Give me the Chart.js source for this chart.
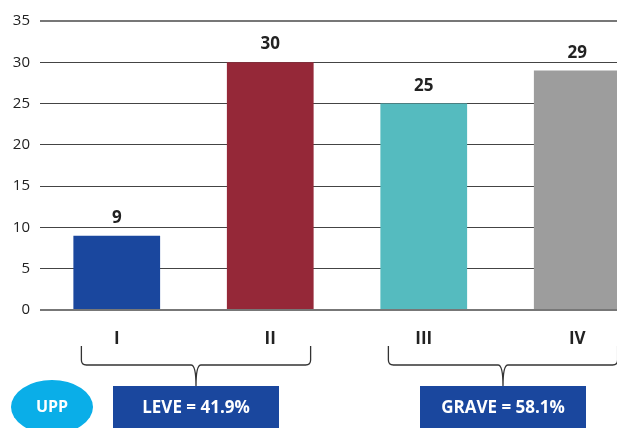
<!DOCTYPE html>
<html>
<head>
<meta charset="utf-8">
<script src="https://cdn.jsdelivr.net/npm/chart.js@4"></script>
<style>
  html, body { margin: 0; padding: 0; background: #fff; overflow: hidden; }
  #wrap { position: relative; width: 617px; height: 428px; overflow: hidden; }
  #wrap canvas { position: absolute; left: 0; top: 0; }
</style>
</head>
<body>
<div id="wrap"><canvas id="gradeChart" width="654" height="428"></canvas></div>
<script>
// 등급별 건수
const categories = ['I', 'II', 'III', 'IV'];
const counts = [9, 30, 25, 29];
const barColors = ['#1a479e', '#952838', '#55bbbf', '#9d9d9d'];
const yTicks = [0, 5, 10, 15, 20, 25, 30, 35];

// 묶음 라벨 (중괄호 아래 상자)
const groups = [
    { from: 0, to: 1, text: 'LEVE = 41.9%' },
    { from: 2, to: 3, text: 'GRAVE = 58.1%' }
];
const badgeText = 'UPP';

const FONT = "'Open Sans', 'Noto Sans', sans-serif";

// 막대 위 값 표시
const valueLabels = {
    id: 'valueLabels',
    afterDatasetsDraw(chart) {
        const ctx = chart.ctx;
        const meta = chart.getDatasetMeta(0);
        ctx.save();
        ctx.font = 'bold 17px ' + FONT;
        ctx.fillStyle = '#222';
        ctx.textAlign = 'center';
        ctx.textBaseline = 'alphabetic';
        meta.data.forEach((bar, i) => {
            ctx.fillText(String(counts[i]), bar.x, bar.y - 13);
        });
        ctx.restore();
    }
};

// 중괄호 + 상자 + UPP 배지
const groupBraces = {
    id: 'groupBraces',
    afterDraw(chart) {
        const ctx = chart.ctx;
        const meta = chart.getDatasetMeta(0);
        const top = 346, mid = 365, r = 5, tip = 386;
        ctx.save();
        groups.forEach(g => {
            const a = meta.data[g.from], b = meta.data[g.to];
            const x1 = a.x - a.width / 2 + 8;
            const x2 = b.x + b.width / 2 - 3;
            const cx = (x1 + x2) / 2;
            ctx.strokeStyle = '#333';
            ctx.lineWidth = 1.3;
            ctx.beginPath();
            ctx.moveTo(x1, top);
            ctx.lineTo(x1, mid - r);
            ctx.quadraticCurveTo(x1, mid, x1 + r, mid);
            ctx.lineTo(cx - r, mid);
            ctx.quadraticCurveTo(cx, mid, cx, tip);
            ctx.moveTo(cx, tip);
            ctx.quadraticCurveTo(cx, mid, cx + r, mid);
            ctx.lineTo(x2 - r, mid);
            ctx.quadraticCurveTo(x2, mid, x2, mid - r);
            ctx.lineTo(x2, top);
            ctx.stroke();

            const w = 166, h = 44;
            ctx.fillStyle = '#1a479e';
            ctx.fillRect(cx - w / 2, tip, w, h);
            ctx.fillStyle = '#fff';
            ctx.font = 'bold 17px ' + FONT;
            ctx.textAlign = 'center';
            ctx.textBaseline = 'middle';
            ctx.fillText(g.text, cx, tip + 22);
        });

        ctx.fillStyle = '#0aaee8';
        ctx.beginPath();
        ctx.ellipse(52, 407, 41, 27, 0, 0, Math.PI * 2);
        ctx.fill();
        ctx.fillStyle = '#fff';
        ctx.font = 'bold 16px ' + FONT;
        ctx.textAlign = 'center';
        ctx.textBaseline = 'middle';
        ctx.fillText(badgeText, 52, 407);
        ctx.restore();
    }
};

const ctx = document.getElementById('gradeChart').getContext('2d');
new Chart(ctx, {
    type: 'bar',
    data: {
        labels: categories,
        datasets: [{
            data: counts,
            backgroundColor: barColors,
            borderWidth: 0,
            barPercentage: 0.565,
            categoryPercentage: 1
        }]
    },
    options: {
        responsive: false,
        animation: false,
        layout: { padding: { top: 21, right: 0, left: 0, bottom: 0 } },
        plugins: {
            legend: { display: false },
            tooltip: { enabled: false }
        },
        scales: {
            x: {
                grid: { display: false },
                border: { display: false },
                ticks: {
                    color: '#222',
                    padding: 11,
                    font: { family: FONT, size: 17, weight: 'bold' }
                },
                afterFit(scale) { scale.height = 118; }
            },
            y: {
                min: 0,
                max: 35,
                afterBuildTicks(scale) { scale.ticks = yTicks.map(v => ({ value: v })); },
                grid: {
                    drawTicks: false,
                    color: ctx => ctx.tick && (ctx.tick.value === 0 || ctx.tick.value === 35) ? '#777' : '#444',
                    lineWidth: ctx => ctx.tick && (ctx.tick.value === 0 || ctx.tick.value === 35) ? 2 : 1
                },
                border: { display: false },
                ticks: {
                    color: '#222',
                    padding: 10,
                    font: { family: FONT, size: 15 }
                },
                afterFit(scale) { scale.width = 40; }
            }
        }
    },
    plugins: [valueLabels, groupBraces]
});
</script>
</body>
</html>
